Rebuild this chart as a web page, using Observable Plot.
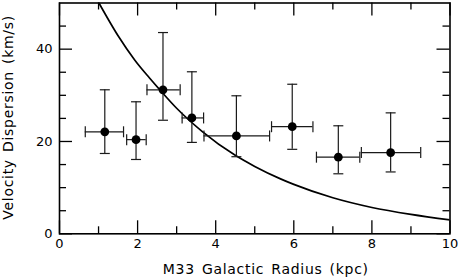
<!DOCTYPE html>
<html>
<head>
<meta charset="utf-8">
<script src="https://cdn.jsdelivr.net/npm/d3@7"></script>
<script src="https://cdn.jsdelivr.net/npm/@observablehq/plot@0.6"></script>
<style>
  html, body { margin: 0; padding: 0; background: #fff; }
  svg { display: block; }
</style>
</head>
<body>
<div id="chart"></div>
<script>
// ---- data ----
const radius   = [1.16, 1.96, 2.65, 3.39, 4.53, 5.96, 7.14, 8.48];
const sigma    = [22.1, 20.4, 31.2, 25.1, 21.2, 23.2, 16.6, 17.6];
const radiusLo = [0.66, 1.72, 2.24, 3.14, 3.70, 5.43, 6.58, 7.73];
const radiusHi = [1.64, 2.22, 3.09, 3.69, 5.38, 6.49, 7.69, 9.25];
const sigmaLo  = [17.4, 16.1, 24.6, 19.8, 16.7, 18.3, 13.0, 13.4];
const sigmaHi  = [31.2, 28.6, 43.6, 35.1, 29.9, 32.4, 23.4, 26.2];

const curveR = [1.01, 1.5, 1.93, 2.3, 2.61, 3.0, 3.65, 4.5, 5.0, 5.66, 6.0, 7.0, 8.0, 9.0, 10.0];
const curveV = [50, 42.9, 37.6, 33.8, 30.8, 27.2, 22.2, 17.0, 14.6, 11.9, 10.7, 7.8, 5.7, 4.2, 3.0];

const xMajorTicks = [0, 2, 4, 6, 8, 10];
const xMinorTicks = [1, 3, 5, 7, 9];
const yMajorTicks = [0, 20, 40];
const yMinorTicks = [5, 10, 15, 25, 30, 35, 45];

const xLabel = "M33 Galactic Radius (kpc)";
const yLabel = "Velocity Dispersion (km/s)";

// ---- build tables ----
const points = radius.map((r, i) => ({
  r, v: sigma[i], rlo: radiusLo[i], rhi: radiusHi[i], vlo: sigmaLo[i], vhi: sigmaHi[i]
}));
const curve = curveR.map((r, i) => ({r, v: curveV[i]}));

// ---- layout ----
const W = 459, H = 277;
const mL = 59, mR = 9.5, mT = 2.5, mB = 43.7;
const innerW = W - mL - mR, innerH = H - mT - mB;
const majorLen = 13, minorLen = 7;

const vCap = {draw(ctx, size) { const r = Math.sqrt(size / Math.PI); ctx.moveTo(0, -r); ctx.lineTo(0, r); }};
const hCap = {draw(ctx, size) { const r = Math.sqrt(size / Math.PI); ctx.moveTo(-r, 0); ctx.lineTo(r, 0); }};

const ink = "#000";
const barInk = "#1a1a1a";

const bottomTicks = (data, len) => Plot.ruleX(data, {x: d => d, insetTop: innerH - len, stroke: ink, strokeWidth: 1.3});
const topTicks = (data, len) => Plot.ruleX(data, {x: d => d, insetBottom: innerH - len, stroke: ink, strokeWidth: 1.3});
const leftTicks = (data, len) => Plot.ruleY(data, {y: d => d, insetRight: innerW - len, stroke: ink, strokeWidth: 1.3});
const rightTicks = (data, len) => Plot.ruleY(data, {y: d => d, insetLeft: innerW - len, stroke: ink, strokeWidth: 1.3});

const chart = Plot.plot({
  width: W,
  height: H,
  marginLeft: mL,
  marginRight: mR,
  marginTop: mT,
  marginBottom: mB,
  style: {fontFamily: "DejaVu Sans", background: "#fff", color: "#000"},
  x: {domain: [0, 10]},
  y: {domain: [0, 50]},
  marks: [
    // ticks (inward)
    bottomTicks(xMajorTicks, majorLen),
    bottomTicks(xMinorTicks, minorLen),
    topTicks(xMajorTicks, majorLen),
    topTicks(xMinorTicks, minorLen),
    leftTicks(yMajorTicks, majorLen),
    leftTicks(yMinorTicks, minorLen),
    rightTicks(yMajorTicks, majorLen),
    rightTicks(yMinorTicks, minorLen),
    // tick labels
    Plot.axisX(xMajorTicks, {tickSize: 0, tickPadding: 5, fontSize: 13, label: null, tickFormat: d => String(d)}),
    Plot.axisY(yMajorTicks, {tickSize: 0, tickPadding: 7, fontSize: 13, label: null, tickFormat: d => String(d)}),
    // model curve
    Plot.line(curve, {x: "r", y: "v", curve: "monotone-x", stroke: ink, strokeWidth: 1.7, clip: true}),
    // error bars
    Plot.ruleY(points, {y: "v", x1: "rlo", x2: "rhi", stroke: barInk, strokeWidth: 1.2}),
    Plot.ruleX(points, {x: "r", y1: "vlo", y2: "vhi", stroke: barInk, strokeWidth: 1.2}),
    Plot.dot(points, {x: "rlo", y: "v", symbol: vCap, r: 5.5, stroke: barInk, strokeWidth: 1.2, fill: "none"}),
    Plot.dot(points, {x: "rhi", y: "v", symbol: vCap, r: 5.5, stroke: barInk, strokeWidth: 1.2, fill: "none"}),
    Plot.dot(points, {x: "r", y: "vlo", symbol: hCap, r: 5, stroke: barInk, strokeWidth: 1.2, fill: "none"}),
    Plot.dot(points, {x: "r", y: "vhi", symbol: hCap, r: 5, stroke: barInk, strokeWidth: 1.2, fill: "none"}),
    // data points
    Plot.dot(points, {x: "r", y: "v", r: 4.4, fill: ink, stroke: "none"}),
    // frame
    Plot.frame({stroke: ink, strokeWidth: 1.6}),
    // axis titles
    Plot.text([xLabel], {frameAnchor: "bottom", text: d => d, dx: 11, dy: 35.5, textAnchor: "middle", lineAnchor: "middle", fontSize: 14, fill: ink}),
    Plot.text([yLabel], {frameAnchor: "left", text: d => d, rotate: -90, dx: -50.5, dy: -1, textAnchor: "middle", lineAnchor: "middle", fontSize: 14, fill: ink})
  ]
});

chart.querySelectorAll("text").forEach(t => {
  if (t.textContent === xLabel || t.textContent === yLabel) {
    t.setAttribute("letter-spacing", "0.7");
    t.setAttribute("word-spacing", "2");
  }
});

document.getElementById("chart").appendChild(chart);
</script>
</body>
</html>
